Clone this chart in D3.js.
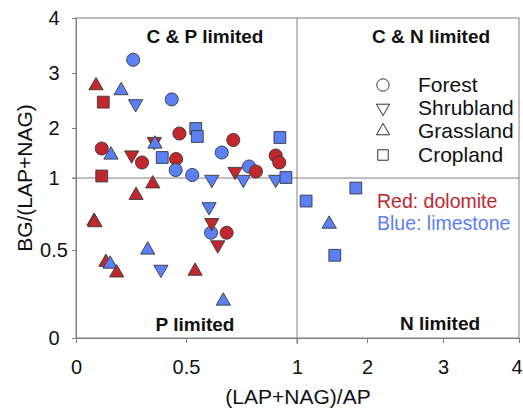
<!DOCTYPE html>
<html>
<head>
<meta charset="utf-8">
<script src="https://cdn.jsdelivr.net/npm/d3@7"></script>
<style>
  html, body { margin: 0; padding: 0; background: #fff; }
  text { font-family: "Liberation Sans", Arial, sans-serif; }
</style>
</head>
<body>
<svg id="chart" width="523" height="411"></svg>
<script>
// ---- data ----
const xTicks = [0, 0.5, 1, 2, 3, 4];
const yTicks = [0, 0.5, 1, 2, 3, 4];
const xTickLabels = ["0", "0.5", "1", "2", "3", "4"];
const yTickLabels = ["0", "0.5", "1", "2", "3", "4"];

// [x, y, substrate]  substrate: "D" = dolomite (red), "L" = limestone (blue)
const forest = [
  [0.26, 3.24, "L"], [0.435, 2.52, "L"], [0.47, 1.89, "D"], [0.117, 1.59, "D"],
  [0.30, 1.31, "D"], [0.455, 1.38, "D"], [0.453, 1.16, "L"], [0.528, 1.06, "L"],
  [0.713, 1.76, "D"], [0.661, 1.51, "L"], [0.904, 1.45, "D"], [0.92, 1.31, "D"],
  [0.784, 1.23, "L"], [0.815, 1.13, "D"], [0.613, 0.62, "L"], [0.683, 0.62, "D"]
];
const shrubland = [
  [0.271, 2.44, "L"], [0.253, 1.46, "D"], [0.356, 1.73, "D"], [0.616, 0.99, "L"],
  [0.721, 1.13, "D"], [0.758, 0.99, "L"], [0.904, 0.99, "L"], [0.604, 0.80, "L"],
  [0.616, 0.69, "D"], [0.643, 0.535, "D"], [0.386, 0.39, "L"]
];
const grassland = [
  [0.091, 2.77, "D"], [0.205, 2.68, "L"], [0.159, 1.46, "L"], [0.359, 1.68, "L"],
  [0.349, 0.96, "D"], [0.273, 0.88, "D"], [0.082, 0.70, "D"], [0.086, 0.69, "D"],
  [0.326, 0.50, "L"], [0.136, 0.43, "D"], [0.155, 0.42, "L"], [0.185, 0.37, "D"],
  [0.541, 0.38, "D"], [0.668, 0.21, "L"], [1.46, 0.68, "L"]
];
const cropland = [
  [0.124, 2.47, "D"], [0.544, 1.99, "L"], [0.551, 1.83, "L"], [0.392, 1.41, "L"],
  [0.117, 1.04, "D"], [0.923, 1.81, "L"], [0.95, 1.01, "L"], [1.13, 0.84, "L"],
  [1.84, 0.93, "L"], [1.54, 0.47, "L"]
];

const legendLabels = ["Forest", "Shrubland", "Grassland", "Cropland"];
const quadrantLabels = ["C & P limited", "C & N limited", "P limited", "N limited"];
const colorLabels = ["Red: dolomite", "Blue: limestone"];

// ---- drawing ----
const RED = "#C1272D", BLUE = "#5B7FF5", STROKE = "#3a3a3a", AXIS = "#808080";
const FONT = "Liberation Sans, Arial, sans-serif";
const svg = d3.select("#chart");

const x = d3.scaleLinear().domain(xTicks).range([76, 186, 297, 367, 443, 519]);
const y = d3.scaleLinear().domain(yTicks).range([338, 250, 178, 128, 73, 18]);
const color = d3.scaleOrdinal().domain(["D", "L"]).range([RED, BLUE]);

// frame
svg.append("rect").attr("x", x(0)).attr("y", y(4))
  .attr("width", x(4) - x(0)).attr("height", y(0) - y(4))
  .attr("fill", "none").attr("stroke", AXIS).attr("stroke-width", 1);

// reference lines
svg.append("line").attr("x1", x(1)).attr("x2", x(1)).attr("y1", y(4)).attr("y2", y(0) + 6)
  .attr("stroke", AXIS).attr("stroke-width", 1);
svg.append("line").attr("x1", x(0) - 4).attr("x2", x(4)).attr("y1", y(1)).attr("y2", y(1))
  .attr("stroke", AXIS).attr("stroke-width", 1);

// axes
const xAxis = d3.axisBottom(x).tickValues(xTicks).tickSize(5).tickSizeOuter(0)
  .tickFormat((d, i) => xTickLabels[i]);
const gx = svg.append("g").attr("transform", `translate(0,${y(0)})`).call(xAxis);
gx.select(".domain").attr("stroke", AXIS);
gx.selectAll(".tick line").attr("stroke", AXIS);
gx.selectAll(".tick text").attr("font-size", 20).attr("fill", "#111")
  .attr("y", 36).attr("dy", 0).attr("font-family", FONT)
  .filter(d => d === 4).attr("text-anchor", "end").attr("x", 3);

const yAxis = d3.axisLeft(y).tickValues(yTicks).tickSize(4).tickSizeOuter(0)
  .tickFormat((d, i) => yTickLabels[i]);
const gy = svg.append("g").attr("transform", `translate(${x(0)},0)`).call(yAxis);
gy.select(".domain").attr("stroke", AXIS);
gy.selectAll(".tick line").attr("stroke", AXIS);
gy.selectAll(".tick text").attr("font-size", 20).attr("fill", "#111")
  .attr("text-anchor", "middle").attr("x", -22).attr("font-family", FONT);

// axis titles
svg.append("text").attr("x", 298).attr("y", 404).attr("text-anchor", "middle")
  .attr("font-size", 21).attr("fill", "#111").text("(LAP+NAG)/AP");
svg.append("text").attr("transform", "translate(32,178) rotate(-90)")
  .attr("text-anchor", "middle").attr("font-size", 21).attr("fill", "#111").text("BG/(LAP+NAG)");

// quadrant labels
const qPos = [[205, 43], [431, 43], [195, 331], [440, 330]];
quadrantLabels.forEach((t, i) => {
  svg.append("text").attr("x", qPos[i][0]).attr("y", qPos[i][1]).attr("text-anchor", "middle")
    .attr("font-size", 19).attr("font-weight", "bold").attr("fill", "#111").text(t);
});

// markers
const symCircle = d3.symbol().type(d3.symbolCircle).size(135);
const symTri = d3.symbol().type(d3.symbolTriangle).size(88);
const symSquare = d3.symbol().type(d3.symbolSquare).size(140);

const groups = [
  { data: forest, path: symCircle(), rot: 0 },
  { data: shrubland, path: symTri(), rot: 180 },
  { data: grassland, path: symTri(), rot: 0 },
  { data: cropland, path: symSquare(), rot: 0 }
];
const marks = svg.append("g");
groups.forEach(g => {
  marks.selectAll(null).data(g.data).enter().append("path")
    .attr("d", g.path)
    .attr("transform", d => `translate(${x(d[0])},${y(d[1])}) rotate(${g.rot})`)
    .attr("fill", d => color(d[2]))
    .attr("stroke", STROKE).attr("stroke-width", 0.9);
});

// legend
const legSyms = [
  { path: d3.symbol().type(d3.symbolCircle).size(120)(), rot: 0 },
  { path: d3.symbol().type(d3.symbolTriangle).size(75)(), rot: 180 },
  { path: d3.symbol().type(d3.symbolTriangle).size(75)(), rot: 0 },
  { path: d3.symbol().type(d3.symbolSquare).size(110)(), rot: 0 }
];
const legY = [85, 108, 131, 155];
legendLabels.forEach((t, i) => {
  svg.append("path").attr("d", legSyms[i].path)
    .attr("transform", `translate(383,${legY[i]}) rotate(${legSyms[i].rot})`)
    .attr("fill", "#fff").attr("stroke", "#333").attr("stroke-width", 1);
  svg.append("text").attr("x", 418).attr("y", legY[i]).attr("dy", "0.35em")
    .attr("font-size", 21).attr("fill", "#111").text(t);
});

// colour note
svg.append("text").attr("x", 377).attr("y", 208).attr("font-size", 19.5).attr("fill", RED).text(colorLabels[0]);
svg.append("text").attr("x", 377).attr("y", 230).attr("font-size", 19.5).attr("fill", BLUE).text(colorLabels[1]);
</script>
</body>
</html>
